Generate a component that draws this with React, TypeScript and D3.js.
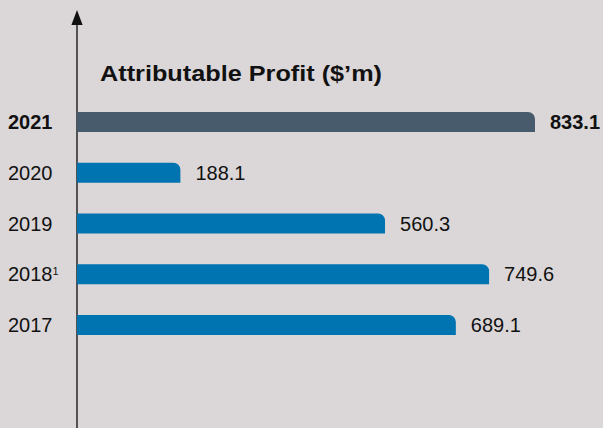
import { useEffect, useRef } from "react";
import * as d3 from "d3";

const years = ["2021", "2020", "2019", "2018", "2017"];
const profits = [833.1, 188.1, 560.3, 749.6, 689.1];
const footnotes = ["", "", "", "1", ""];
const highlightYear = "2021";
const title = "Attributable Profit ($\u2019m)";

const width = 603;
const height = 428;

export default function App() {
  const svgRef = useRef<SVGSVGElement | null>(null);

  useEffect(() => {
    const svg = d3.select(svgRef.current);
    svg.selectAll("*").remove();

    const font = "'Liberation Sans', Arial, Helvetica, sans-serif";
    const axisX = 77;

    svg.append("rect").attr("width", width).attr("height", height).attr("fill", "#dbd7d8");

    // scales
    const x = d3.scaleLinear().domain([0, 833.1]).range([axisX, 535]);
    const y = d3.scalePoint<string>().domain(years).range([122, 325]);
    const barH = 20;
    const r = 7;

    // axis with arrow
    svg.append("line")
      .attr("x1", axisX).attr("x2", axisX)
      .attr("y1", 20).attr("y2", height)
      .attr("stroke", "#1a1a1a")
      .attr("stroke-width", 1.4);
    svg.append("path")
      .attr("d", `M${axisX},10 L${axisX - 5.6},25 L${axisX + 5.6},25 Z`)
      .attr("fill", "#111");

    svg.append("text")
      .attr("x", 100)
      .attr("y", 81)
      .attr("font-family", font)
      .attr("font-weight", "bold")
      .attr("font-size", 22.5)
      .attr("textLength", 282)
      .attr("lengthAdjust", "spacingAndGlyphs")
      .attr("fill", "#111")
      .text(title);

    const rows = years.map((yr, i) => ({ year: yr, value: profits[i], note: footnotes[i] }));

    const barPath = (v: number, cy: number) => {
      const p = d3.path();
      const x0 = x(0), x1 = x(v), y0 = cy - barH / 2, y1 = cy + barH / 2;
      p.moveTo(x0, y0);
      p.lineTo(x1 - r, y0);
      p.arcTo(x1, y0, x1, y0 + r, r);
      p.lineTo(x1, y1);
      p.lineTo(x0, y1);
      p.closePath();
      return p.toString();
    };

    const g = svg.selectAll("g.row").data(rows).enter().append("g").attr("class", "row");

    g.append("path")
      .attr("d", d => barPath(d.value, y(d.year)!))
      .attr("fill", d => d.year === highlightYear ? "#485b6c" : "#0074b0");

    g.append("text")
      .attr("x", d => x(d.value) + 15)
      .attr("y", d => y(d.year)!)
      .attr("dy", "0.36em")
      .attr("font-family", font)
      .attr("font-size", 20)
      .attr("font-weight", d => d.year === highlightYear ? "bold" : "normal")
      .attr("fill", "#111")
      .text(d => d.value.toFixed(1));

    const yl = g.append("text")
      .attr("x", 8)
      .attr("y", d => y(d.year)!)
      .attr("dy", "0.36em")
      .attr("font-family", font)
      .attr("font-size", 20)
      .attr("font-weight", d => d.year === highlightYear ? "bold" : "normal")
      .attr("fill", "#111");
    yl.append("tspan").text(d => d.year);
    yl.append("tspan")
      .attr("font-size", 11)
      .attr("dy", "-0.6em")
      .text(d => d.note);
  }, []);

  return (
    <svg
      ref={svgRef}
      width={width}
      height={height}
      style={{ position: "fixed", left: 0, top: 0, display: "block" }}
    />
  );
}
